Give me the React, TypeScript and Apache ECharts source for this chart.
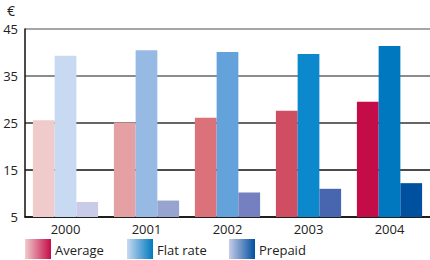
import React, { useEffect, useRef } from "react";
import * as echarts from "echarts";

const years = ["2000", "2001", "2002", "2003", "2004"];
const averageValues = [25.6, 25.1, 26.1, 27.6, 29.5];
const flatRateValues = [39.3, 40.5, 40.1, 39.7, 41.4];
const prepaidValues = [8.2, 8.5, 10.2, 11.0, 12.2];
const yTicks = [5, 15, 25, 35, 45];

const averageColors = ["#f0cbcb", "#e4a0a2", "#dc7279", "#d04e62", "#c40c48"];
const flatColors = ["#c8daf2", "#96bae4", "#64a2dc", "#0c88cc", "#0078c0"];
const prepaidColors = ["#c8cce8", "#98a4d0", "#7480c0", "#4866b0", "#0050a0"];

const FONT = "Open Sans";

function grad(c0: string, c1: string) {
  return new echarts.graphic.LinearGradient(0, 0, 1, 0, [
    { offset: 0, color: c0 },
    { offset: 1, color: c1 },
  ]);
}

export default function App() {
  const ref = useRef<HTMLDivElement>(null);
  useEffect(() => {
    const chart = echarts.init(ref.current!, undefined, { renderer: "svg" });
    const mk = (name: string, vals: number[], cols: string[]) => ({
      name,
      type: "bar",
      barGap: "0%",
      barCategoryGap: "19.5%",
      data: vals.map((v, i) => ({ value: v, itemStyle: { color: cols[i] } })),
    });
    const legendItems = [
      { x: 25, label: "Average", c0: averageColors[0], c1: averageColors[4] },
      { x: 127, label: "Flat rate", c0: flatColors[0], c1: flatColors[4] },
      { x: 229, label: "Prepaid", c0: prepaidColors[0], c1: prepaidColors[4] },
    ];
    const graphics: any[] = [
      {
        type: "text",
        left: 7,
        top: 3,
        style: { text: "€", fontSize: 14, fontFamily: FONT, fill: "#222" },
      },
    ];
    legendItems.forEach((it) => {
      graphics.push({
        type: "rect",
        shape: { x: it.x, y: 239, width: 26, height: 20 },
        style: { fill: grad(it.c0, it.c1) },
      });
      graphics.push({
        type: "text",
        x: it.x + 30,
        y: 250,
        style: {
          text: it.label,
          fontSize: 13,
          fontFamily: FONT,
          fill: "#222",
          verticalAlign: "middle",
        },
      });
    });
    chart.setOption({
      animation: false,
      grid: { left: 25, top: 29, width: 410, bottom: 43 },
      xAxis: {
        type: "category",
        data: years,
        axisLine: { lineStyle: { color: "#111", width: 1.5 } },
        axisTick: { inside: true, length: 4, lineStyle: { color: "#333" } },
        axisLabel: { fontSize: 13, fontFamily: FONT, color: "#222", margin: 5 },
      },
      yAxis: {
        type: "value",
        min: yTicks[0],
        max: yTicks[yTicks.length - 1],
        interval: 10,
        axisLine: { show: true, lineStyle: { color: "#111", width: 1.5 } },
        axisTick: { show: false },
        axisLabel: { fontSize: 13, fontFamily: FONT, color: "#222", margin: 7 },
        splitLine: {
          lineStyle: { color: ["#111", "#111", "#333", "#666", "#888"], width: 1.5 },
        },
      },
      series: [
        mk("Average", averageValues, averageColors),
        mk("Flat rate", flatRateValues, flatColors),
        mk("Prepaid", prepaidValues, prepaidColors),
      ],
      graphic: graphics,
    });
    return () => chart.dispose();
  }, []);
  return (
    <div
      ref={ref}
      style={{ position: "fixed", left: 0, top: 0, width: 430, height: 260, background: "#fff" }}
    />
  );
}
